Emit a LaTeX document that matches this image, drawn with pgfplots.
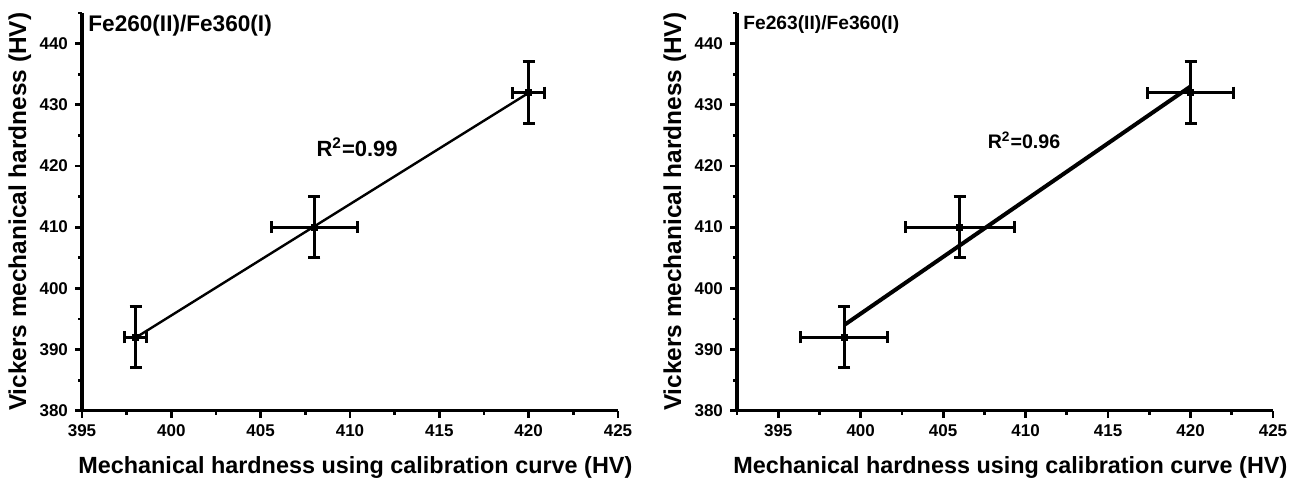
\documentclass[border=0pt]{standalone}
\usepackage{fontspec}
\setmainfont{Liberation Sans}
\usepackage{pgfplots}
\pgfplotsset{compat=1.18}

% shared look of both panels (Origin style: left/bottom axes only)
\pgfplotsset{hardness/.style={
    width=268pt, height=198.85pt, scale only axis,
    axis x line=bottom, axis y line=left,
    axis line style={line width=1.6pt, -},
    xmax=425, ymin=380, ymax=445,
    xtick={395,400,...,425}, ytick={380,390,...,440},
    minor ytick={385,395,...,445},
    tick align=outside,
    major tick length=3.5pt, minor tick length=2pt,
    every tick/.style={line width=1.4pt, black},
    /pgf/number format/assume math mode=true,
    tick label style={font=\bfseries\fontsize{8.5}{9}\selectfont},
    xlabel={Mechanical hardness using calibration curve (HV)},
    ylabel={Vickers mechanical hardness (HV)},
    xlabel style={font=\bfseries\fontsize{11.7}{13}\selectfont,
        at={(axis description cs:0.51,-0.144)}, anchor=center},
    ylabel style={font=\bfseries\fontsize{12.2}{13}\selectfont,
        at={(axis description cs:-0.116,0.5)}, anchor=center},
    clip=false,
}}
\pgfplotsset{pts/.style={
    black, only marks, mark=square*, mark size=1.4pt,
    error bars/.cd,
        x dir=both, x explicit, y dir=both, y explicit,
        error bar style={line width=1.5pt, black},
        error mark options={rotate=90, mark size=3pt, line width=1.5pt, black},
}}

\pgfplotstableread{
x   y   ex   ey
398 392 0.6  5
408 410 2.4  5
420 432 0.9  5
}\dataA
\pgfplotstableread{
x   y   ex   ey
399 392 2.65 5
406 410 3.3  5
420 432 2.6  5
}\dataB

\begin{document}
\begin{tikzpicture}
\useasboundingbox (0,0) rectangle (648pt,240pt);

\begin{axis}[hardness, at={(41pt,34.65pt)}, anchor=south west,
    xmin=395, minor xtick={397.5,402.5,...,422.5}]
\addplot[black, line width=1.2pt] coordinates {(398,391.93) (420,431.95)};
\addplot[pts] table[x=x, y=y, x error=ex, y error=ey] {\dataA};
\node[anchor=north west, inner sep=0pt, font=\bfseries\fontsize{11.3}{12}\selectfont,
    xshift=3pt, yshift=-1pt] at (rel axis cs:0,1) {Fe260(II)/Fe360(I)};
\node[font=\bfseries\fontsize{11}{12}\selectfont] at (axis cs:410.4,423) {R\textsuperscript{2}=0.99};
\end{axis}

\begin{axis}[hardness, at={(368.5pt,34.65pt)}, anchor=south west,
    xmin=392.5, minor xtick={392.5,397.5,...,422.5}]
\addplot[black, line width=2pt] coordinates {(399,394.0) (420,433.0)};
\addplot[pts] table[x=x, y=y, x error=ex, y error=ey] {\dataB};
\node[anchor=north west, inner sep=0pt, font=\bfseries\fontsize{9.6}{11}\selectfont,
    xshift=3pt, yshift=-1pt] at (rel axis cs:0,1) {Fe263(II)/Fe360(I)};
\node[font=\bfseries\fontsize{9.8}{11}\selectfont] at (axis cs:409.9,424.2) {R\textsuperscript{2}=0.96};
\end{axis}
\end{tikzpicture}
\end{document}
